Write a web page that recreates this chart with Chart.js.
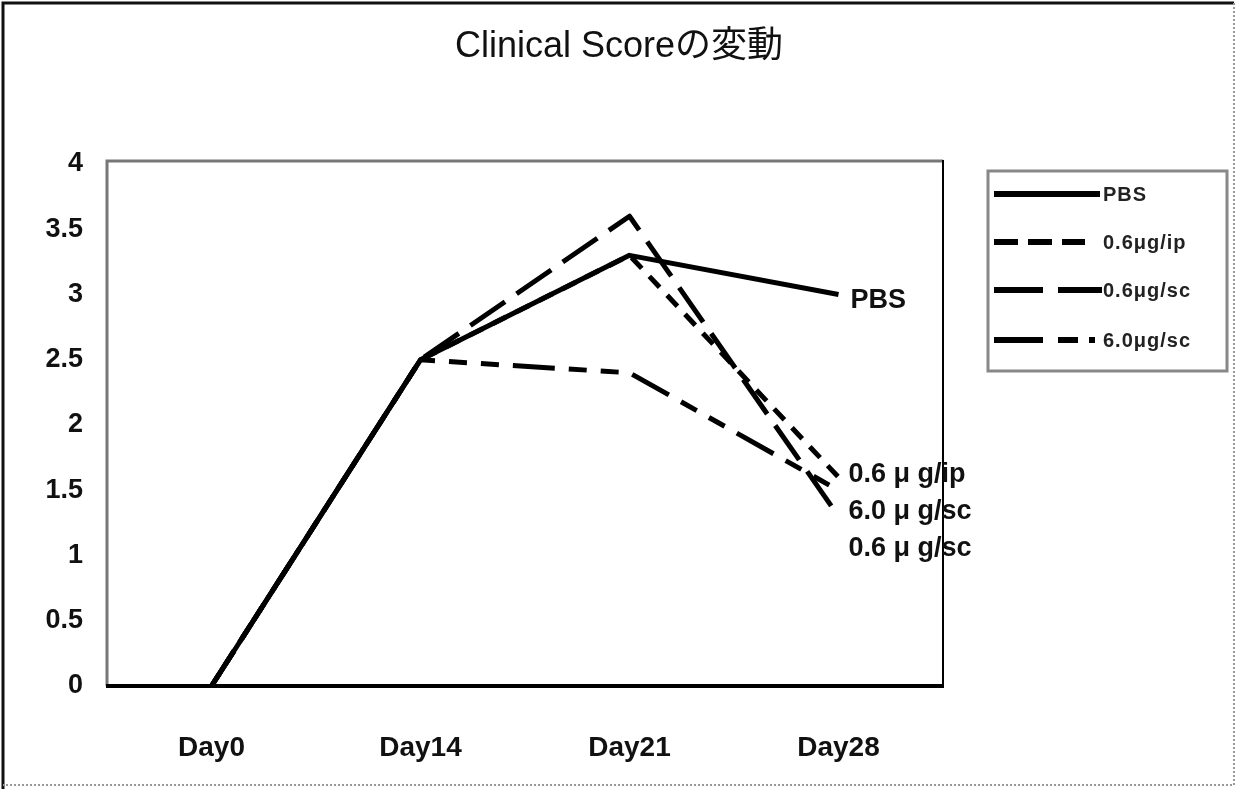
<!DOCTYPE html>
<html>
<head>
<meta charset="utf-8">
<script src="https://cdn.jsdelivr.net/npm/chart.js@4/dist/chart.umd.min.js"></script>
<style>
  html, body { margin: 0; padding: 0; background: #fff; }
  #wrap { width: 1237px; height: 789px; position: relative; }
</style>
</head>
<body>
<div id="wrap"><canvas id="c" width="1237" height="789"></canvas></div>
<script>
// Time points and clinical scores per treatment group
const categories = ['Day0', 'Day14', 'Day21', 'Day28'];
const seriesNames = ['PBS', '0.6μg/ip', '0.6μg/sc', '6.0μg/sc'];
const pbs  = [0, 2.5, 3.3, 3.0];
const ip06 = [0, 2.5, 3.3, 1.6];
const sc06 = [0, 2.5, 3.6, 1.3];
const sc60 = [0, 2.5, 2.4, 1.5];
const yTicks = [0, 0.5, 1, 1.5, 2, 2.5, 3, 3.5, 4];
const endLabels = ['PBS', '0.6 μ g/ip', '0.6 μ g/sc', '6.0 μ g/sc'];
const chartTitle = 'Clinical Scoreの変動';

const FONT = "'Liberation Sans', Arial, 'Noto Sans CJK JP', sans-serif";

// line styles: solid, short dash, long dash, long-short-short
const dashes = [[], [15, 11], [42, 14], [42, 14, 18, 14, 18, 14]];
const legendDashes = [[], [24, 10], [49, 15], [49, 15, 20, 11, 7, 40]];
const legendEnds = [1100, 1085, 1102, 1095];
const values = [pbs, ip06, sc06, sc60];

const datasets = values.map((v, i) => ({
  label: seriesNames[i],
  data: v,
  borderColor: '#000',
  backgroundColor: '#000',
  borderWidth: 5,
  borderDash: dashes[i],
  borderCapStyle: 'butt',
  borderJoinStyle: 'round',
  pointRadius: 0,
  tension: 0,
  fill: false,
  clip: 6
}));
// solid PBS line drawn last so it sits on top
datasets.reverse();

// Page frame, title and the box around the plot area
const framePlugin = {
  id: 'frames',
  beforeDraw(chart) {
    const ctx = chart.ctx;
    ctx.save();
    ctx.fillStyle = '#fff';
    ctx.fillRect(0, 0, chart.width, chart.height);
    ctx.strokeStyle = '#111';
    ctx.lineWidth = 3;
    ctx.beginPath();
    ctx.moveTo(3, chart.height); ctx.lineTo(3, 3); ctx.lineTo(chart.width - 3, 3);
    ctx.stroke();
    ctx.strokeStyle = '#999';
    ctx.lineWidth = 2;
    ctx.setLineDash([2, 2]);
    ctx.beginPath();
    ctx.moveTo(chart.width - 3, 3); ctx.lineTo(chart.width - 3, chart.height - 4); ctx.lineTo(3, chart.height - 4);
    ctx.stroke();
    ctx.setLineDash([]);
    ctx.fillStyle = '#111';
    ctx.font = '36px ' + FONT;
    ctx.textAlign = 'center';
    ctx.textBaseline = 'middle';
    ctx.fillText(chartTitle, 619, 47);
    ctx.restore();
  },
  afterDatasetsDraw(chart) {
    const { ctx, chartArea: a } = chart;
    ctx.save();
    ctx.lineWidth = 3;
    ctx.strokeStyle = '#777';
    ctx.beginPath();
    ctx.moveTo(a.left, a.bottom); ctx.lineTo(a.left, a.top - 3); ctx.lineTo(a.right, a.top - 3);
    ctx.stroke();
    ctx.strokeStyle = '#000';
    ctx.lineWidth = 2;
    ctx.beginPath();
    ctx.moveTo(a.right, a.top - 4); ctx.lineTo(a.right, a.bottom);
    ctx.stroke();
    ctx.lineWidth = 4;
    ctx.beginPath();
    ctx.moveTo(a.left - 1, a.bottom); ctx.lineTo(a.right + 1, a.bottom);
    ctx.stroke();
    ctx.restore();
  }
};

// Series names written at the last time point
const endLabelPlugin = {
  id: 'endLabels',
  afterDatasetsDraw(chart) {
    const { ctx, scales: { x, y } } = chart;
    const last = categories.length - 1;
    const px = x.getPixelForValue(last);
    ctx.save();
    ctx.fillStyle = '#111';
    ctx.font = 'bold 27px ' + FONT;
    ctx.textBaseline = 'middle';
    ctx.textAlign = 'left';
    // PBS sits beside its own point
    ctx.fillText(endLabels[0], px + 12, y.getPixelForValue(pbs[last]) + 6);
    // the three treated groups are stacked from the highest end value down
    const order = [1, 2, 3].sort((a, b) => values[b][last] - values[a][last]);
    let ly = y.getPixelForValue(values[order[0]][last]) - 3;
    order.forEach(i => {
      ctx.fillText(endLabels[i], px + 10, ly);
      ly += 37;
    });
    ctx.restore();
  }
};

// Boxed legend on the right
const legendPlugin = {
  id: 'boxLegend',
  afterDraw(chart) {
    const ctx = chart.ctx;
    const bx = 988, by = 171, bw = 239, bh = 200;
    ctx.save();
    ctx.strokeStyle = '#888';
    ctx.lineWidth = 3;
    ctx.strokeRect(bx, by, bw, bh);
    const rows = [194, 242, 290, 340];
    seriesNames.forEach((name, i) => {
      const yy = rows[i];
      ctx.strokeStyle = '#000';
      ctx.lineWidth = 6;
      ctx.setLineDash(legendDashes[i]);
      ctx.beginPath();
      ctx.moveTo(994, yy);
      ctx.lineTo(legendEnds[i], yy);
      ctx.stroke();
      ctx.setLineDash([]);
      ctx.fillStyle = '#222';
      ctx.font = 'bold 20px ' + FONT;
      if ('letterSpacing' in ctx) ctx.letterSpacing = '1px';
      ctx.textBaseline = 'middle';
      ctx.textAlign = 'left';
      ctx.fillText(name, 1103, yy + 1);
      if ('letterSpacing' in ctx) ctx.letterSpacing = '0px';
    });
    ctx.restore();
  }
};

new Chart(document.getElementById('c'), {
  type: 'line',
  data: { labels: categories, datasets },
  options: {
    responsive: false,
    animation: false,
    devicePixelRatio: 1,
    layout: { padding: { left: 0, right: 294, top: 164, bottom: 0 } },
    plugins: {
      legend: { display: false },
      tooltip: { enabled: false },
      title: { display: false }
    },
    scales: {
      x: {
        offset: true,
        grid: { display: false, drawTicks: false },
        border: { display: false },
        ticks: { padding: 45, color: '#111', font: { family: FONT, size: 28, weight: 'bold' } },
        afterFit(s) { s.height = 103; }
      },
      y: {
        min: 0,
        max: 4,
        grid: { display: false, drawTicks: false },
        border: { display: false },
        afterBuildTicks(s) { s.ticks = yTicks.map(v => ({ value: v })); },
        ticks: {
          padding: 24,
          color: '#111',
          font: { family: FONT, size: 27, weight: 'bold' },
          callback: v => String(v)
        },
        afterFit(s) { s.width = 107; }
      }
    }
  },
  plugins: [framePlugin, endLabelPlugin, legendPlugin]
});
</script>
</body>
</html>
